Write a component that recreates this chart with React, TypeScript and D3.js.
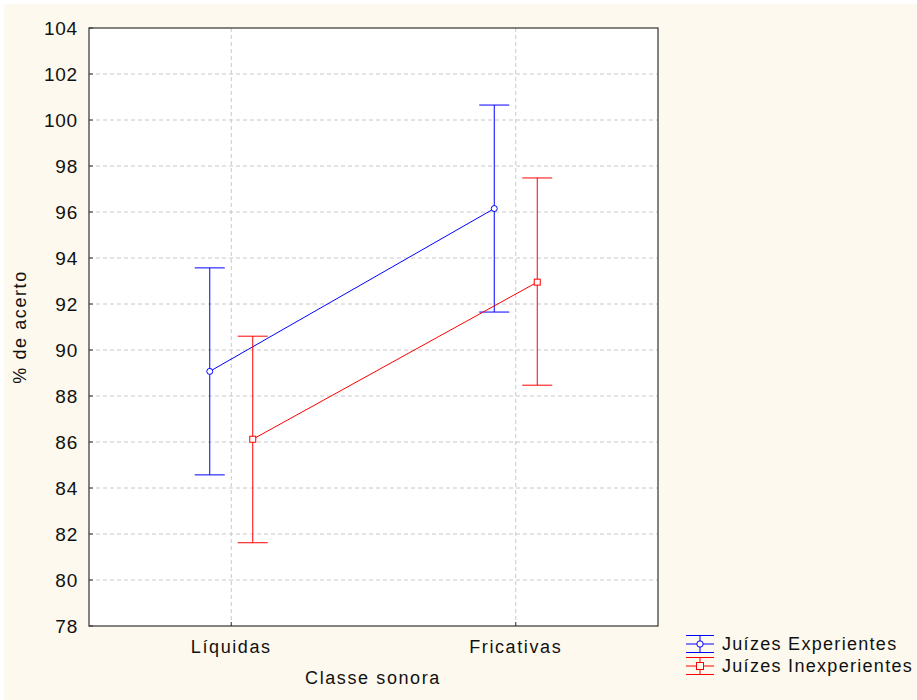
import React, { useRef, useEffect } from 'react';
import * as d3 from 'd3';

const categories = ['Líquidas', 'Fricativas'];
const seriesNames = ['Juízes Experientes', 'Juízes Inexperientes'];
const seriesColors = ['#0000ff', '#ff0000'];
const expMean = [89.07, 96.15];
const expLower = [84.57, 91.65];
const expUpper = [93.57, 100.65];
const inexpMean = [86.12, 92.95];
const inexpLower = [81.62, 88.47];
const inexpUpper = [90.6, 97.48];
const yTicks = [78, 80, 82, 84, 86, 88, 90, 92, 94, 96, 98, 100, 102, 104];

const App = () => {
  const ref = useRef(null);

  useEffect(() => {
    const svg = d3.select(ref.current);
    svg.selectAll('*').remove();
    const font = 'Arial, "Liberation Sans", sans-serif';
    const ls = 1.6;
    const margin = { left: 89, top: 28, right: 658, bottom: 626 };

    svg.append('rect').attr('x', 4).attr('y', 4).attr('width', 913).attr('height', 696).attr('fill', '#fdf9ee');
    svg.append('rect').attr('x', margin.left).attr('y', margin.top)
      .attr('width', margin.right - margin.left).attr('height', margin.bottom - margin.top).attr('fill', '#fff');

    const x = d3.scalePoint().domain(categories).range([margin.left, margin.right]).padding(0.5);
    const y = d3.scaleLinear().domain([78, 104]).range([margin.bottom, margin.top]);

    // grid
    svg.append('g').selectAll('line').data(yTicks.slice(1, -1)).enter().append('line')
      .attr('x1', margin.left).attr('x2', margin.right)
      .attr('y1', d => y(d)).attr('y2', d => y(d))
      .attr('stroke', '#c8c8c8').attr('stroke-dasharray', '4,3');
    svg.append('g').selectAll('line').data(categories).enter().append('line')
      .attr('x1', d => x(d)).attr('x2', d => x(d))
      .attr('y1', margin.top).attr('y2', margin.bottom)
      .attr('stroke', '#c8c8c8').attr('stroke-dasharray', '4,3');

    // frame
    svg.append('rect').attr('x', margin.left).attr('y', margin.top)
      .attr('width', margin.right - margin.left).attr('height', margin.bottom - margin.top)
      .attr('fill', 'none').attr('stroke', '#333').attr('stroke-width', 1.2);

    // y tick labels
    svg.append('g').selectAll('text').data(yTicks).enter().append('text')
      .attr('x', 78).attr('y', d => y(d)).attr('dy', '0.36em')
      .attr('text-anchor', 'end').attr('font-family', font).attr('font-size', 19)
      .attr('letter-spacing', 0.8).attr('fill', '#111')
      .text(d => d);
    svg.append('g').selectAll('line').data(yTicks).enter().append('line')
      .attr('x1', margin.left).attr('x2', margin.left + 4)
      .attr('y1', d => y(d)).attr('y2', d => y(d)).attr('stroke', '#333');

    // x tick labels
    svg.append('g').selectAll('text').data(categories).enter().append('text')
      .attr('x', d => x(d)).attr('y', 653).attr('text-anchor', 'middle')
      .attr('font-family', font).attr('font-size', 18).attr('letter-spacing', ls)
      .attr('fill', '#111').text(d => d);
    svg.append('g').selectAll('line').data(categories).enter().append('line')
      .attr('x1', d => x(d)).attr('x2', d => x(d))
      .attr('y1', margin.bottom).attr('y2', margin.bottom - 4).attr('stroke', '#333');

    svg.append('text').attr('x', 373).attr('y', 684).attr('text-anchor', 'middle')
      .attr('font-family', font).attr('font-size', 18).attr('letter-spacing', ls)
      .attr('fill', '#111').text('Classe sonora');
    svg.append('text').attr('transform', 'translate(26,327) rotate(-90)').attr('text-anchor', 'middle')
      .attr('font-family', font).attr('font-size', 18).attr('letter-spacing', ls)
      .attr('fill', '#111').text('% de acerto');

    const series = [
      { mean: expMean, lo: expLower, hi: expUpper, offset: -21.5, marker: 'circle' },
      { mean: inexpMean, lo: inexpLower, hi: inexpUpper, offset: 21.5, marker: 'square' },
    ];
    const capW = 15;

    series.forEach((s, si) => {
      const color = seriesColors[si];
      const g = svg.append('g');
      const px = (i: number) => (x(categories[i]) as number) + s.offset;
      const line = d3.line<number>().x((d, i) => px(i)).y(d => y(d));
      g.append('path').datum(s.mean).attr('d', line).attr('fill', 'none').attr('stroke', color).attr('stroke-width', 1);
      categories.forEach((c, i) => {
        const cx = px(i);
        g.append('line').attr('x1', cx).attr('x2', cx).attr('y1', y(s.lo[i])).attr('y2', y(s.hi[i])).attr('stroke', color);
        [s.lo[i], s.hi[i]].forEach(v => {
          g.append('line').attr('x1', cx - capW).attr('x2', cx + capW).attr('y1', y(v)).attr('y2', y(v)).attr('stroke', color);
        });
        if (s.marker === 'circle') {
          g.append('circle').attr('cx', cx).attr('cy', y(s.mean[i])).attr('r', 3).attr('fill', '#fff').attr('stroke', color);
        } else {
          g.append('rect').attr('x', cx - 3).attr('y', y(s.mean[i]) - 3).attr('width', 6).attr('height', 6)
            .attr('fill', '#fff').attr('stroke', color);
        }
      });
    });

    // legend
    seriesNames.forEach((name, i) => {
      const cy = 644 + i * 22;
      const color = seriesColors[i];
      const g = svg.append('g');
      const lx = 700;
      [-8.5, 0, 8.5].forEach(dy => {
        g.append('line').attr('x1', lx - 14).attr('x2', lx + 14).attr('y1', cy + dy).attr('y2', cy + dy).attr('stroke', color);
      });
      g.append('line').attr('x1', lx).attr('x2', lx).attr('y1', cy - 8.5).attr('y2', cy + 8.5).attr('stroke', color);
      if (i === 0) {
        g.append('circle').attr('cx', lx).attr('cy', cy).attr('r', 3.2).attr('fill', '#fdf9ee').attr('stroke', color);
      } else {
        g.append('rect').attr('x', lx - 3.5).attr('y', cy - 3.5).attr('width', 7).attr('height', 7).attr('fill', '#fdf9ee').attr('stroke', color);
      }
      g.append('text').attr('x', 722).attr('y', cy).attr('dy', '0.36em')
        .attr('font-family', font).attr('font-size', 18).attr('letter-spacing', 1.3)
        .attr('fill', '#111').text(name);
    });
  }, []);

  return (
    <svg ref={ref} width={917} height={700} style={{ position: 'absolute', left: 0, top: 0 }}></svg>
  );
};

export default App;
